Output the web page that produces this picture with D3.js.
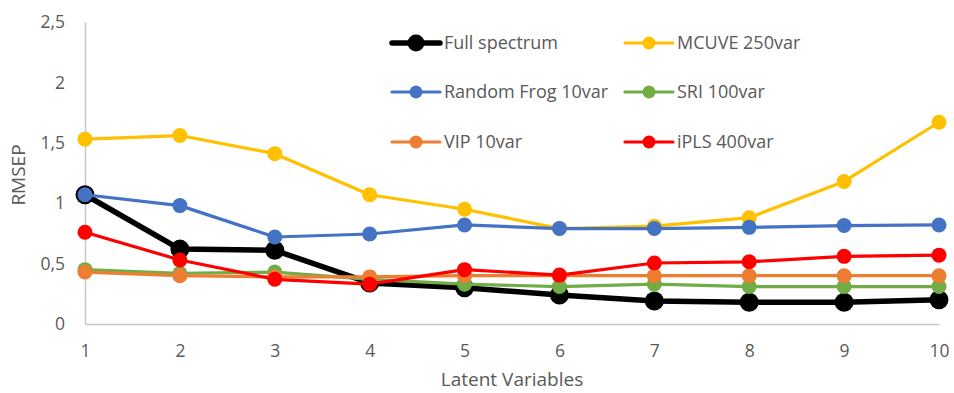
<!DOCTYPE html>
<html>
<head>
<meta charset="utf-8">
<script src="https://cdn.jsdelivr.net/npm/d3@7"></script>
<style>
  html, body { margin: 0; padding: 0; background: #fff; }
  svg { display: block; font-family: "Open Sans", "Noto Sans", sans-serif; }
</style>
</head>
<body>
<svg id="chart" width="954" height="393"></svg>
<script>
// Latent variable counts along the x axis
const latentVars = [1, 2, 3, 4, 5, 6, 7, 8, 9, 10];
const yTicks = [0, 0.5, 1, 1.5, 2, 2.5];

// RMSEP per model, one value per latent variable count
const fullSpectrum = [1.07, 0.62, 0.61, 0.34, 0.30, 0.24, 0.19, 0.18, 0.18, 0.20];
const mcuve250     = [1.53, 1.56, 1.41, 1.07, 0.95, 0.79, 0.81, 0.88, 1.18, 1.67];
const randomFrog10 = [1.07, 0.98, 0.72, 0.745, 0.82, 0.79, 0.79, 0.80, 0.815, 0.82];
const sri100       = [0.45, 0.42, 0.43, 0.37, 0.33, 0.31, 0.33, 0.31, 0.31, 0.31];
const vip10        = [0.43, 0.40, 0.39, 0.39, 0.40, 0.40, 0.40, 0.40, 0.40, 0.40];
const ipls400      = [0.76, 0.53, 0.37, 0.33, 0.45, 0.405, 0.505, 0.515, 0.56, 0.57];

const seriesNames = ["Full spectrum", "MCUVE 250var", "Random Frog 10var", "SRI 100var", "VIP 10var", "iPLS 400var"];
const seriesValues = [fullSpectrum, mcuve250, randomFrog10, sri100, vip10, ipls400];
const seriesColors = ["#000000", "#FFC000", "#4472C4", "#70AD47", "#ED7D31", "#FF0000"];

const svg = d3.select("#chart");
const margin = { left: 85, right: 15, top: 22, bottom: 69 };
const W = 954, H = 393;

const x = d3.scaleLinear().domain([1, 10]).range([margin.left, W - margin.right]);
const y = d3.scaleLinear().domain([0, 2.5]).range([H - margin.bottom, margin.top]);

const fmt = d => String(d).replace(".", ",");

// Axes: plain grey lines, no tick marks
const xAxis = svg.append("g")
  .attr("transform", `translate(0,${y(0)})`)
  .call(d3.axisBottom(x).tickValues(latentVars).tickSize(0).tickPadding(21).tickFormat(d3.format("d")));
const yAxis = svg.append("g")
  .attr("transform", `translate(${x(1)},0)`)
  .call(d3.axisLeft(y).tickValues(yTicks).tickSize(0).tickPadding(20).tickFormat(fmt));

[xAxis, yAxis].forEach(g => {
  g.select(".domain").attr("stroke", "#C8C8C8").attr("stroke-width", 1.5);
  g.selectAll("text").attr("fill", "#595959").attr("font-size", 17.5)
    .attr("font-family", "'Open Sans', 'Noto Sans', sans-serif");
});

// Axis titles
svg.append("text")
  .attr("x", (x(1) + x(10)) / 2).attr("y", 386)
  .attr("text-anchor", "middle").attr("fill", "#595959").attr("font-size", 19)
  .text("Latent Variables");
svg.append("text")
  .attr("transform", `translate(25,${(y(0) + y(2.5)) / 2 + 2}) rotate(-90)`)
  .attr("text-anchor", "middle").attr("fill", "#595959").attr("font-size", 19)
  .text("RMSEP");

// Series lines and markers
const line = d3.line().x((d, i) => x(latentVars[i])).y(d => y(d));

seriesValues.forEach((vals, s) => {
  const isFull = s === 0;
  const g = svg.append("g");
  g.append("path")
    .attr("d", line(vals))
    .attr("fill", "none")
    .attr("stroke", seriesColors[s])
    .attr("stroke-width", isFull ? 5.5 : 3.2)
    .attr("stroke-linejoin", "round");
  g.selectAll("circle").data(vals).join("circle")
    .attr("cx", (d, i) => x(latentVars[i]))
    .attr("cy", d => y(d))
    .attr("r", isFull ? 9.5 : 7.5)
    .attr("fill", seriesColors[s]);
});

// Legend in two columns
const legendCols = [392, 625];
const legendRows = [43, 92, 142];
seriesNames.forEach((name, s) => {
  const cx = legendCols[s % 2];
  const cy = legendRows[Math.floor(s / 2)];
  const isFull = s === 0;
  const g = svg.append("g").attr("transform", `translate(${cx},${cy})`);
  g.append("line")
    .attr("x1", 0).attr("x2", 48).attr("y1", 0).attr("y2", 0)
    .attr("stroke", seriesColors[s])
    .attr("stroke-width", isFull ? 5.5 : 3.2)
    .attr("stroke-linecap", "round");
  g.append("circle").attr("cx", 24).attr("cy", 0)
    .attr("r", isFull ? 8.5 : 6.5).attr("fill", seriesColors[s]);
  g.append("text")
    .attr("x", 52).attr("y", 0).attr("dy", "0.35em")
    .attr("fill", "#595959").attr("font-size", 18)
    .text(name);
});
</script>
</body>
</html>
